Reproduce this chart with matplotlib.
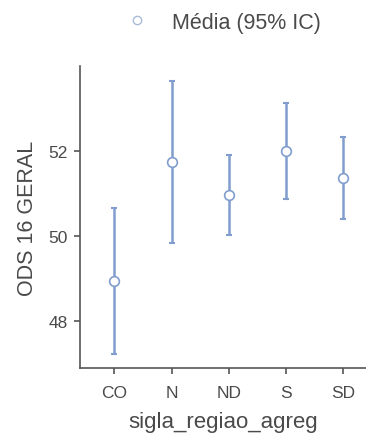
import numpy as np
import matplotlib
matplotlib.use("Agg")
import matplotlib.pyplot as plt
from matplotlib.lines import Line2D

plt.rcParams['font.family'] = ['Liberation Sans', 'DejaVu Sans']

regions = ["CO", "N", "ND", "S", "SD"]
means = [48.94, 51.74, 50.97, 52.00, 51.37]
lower = [47.22, 49.83, 50.02, 50.87, 50.41]
upper = [50.65, 53.64, 51.90, 53.14, 52.34]

line_col = "#809dce"
text_col = "#4a4a4a"

fig = plt.figure(figsize=(3.66, 4.35), dpi=100)
ax = fig.add_axes([80 / 366, 1 - 369 / 435, 286 / 366, 302 / 435])

x = np.arange(len(regions))
m = np.array(means)
err = [m - np.array(lower), np.array(upper) - m]
ax.errorbar(x, m, yerr=err, fmt="none", ecolor=line_col, elinewidth=1.8,
            capsize=2.5, capthick=1.5)
ax.plot(x, m, "o", ms=7, mfc="white", mec=line_col, mew=1.2, zorder=3)

ax.set_xlim(-0.6, 4.4)
ax.set_ylim(46.9, 54.0)
ax.set_xticks(x)
ax.set_xticklabels(regions)
ax.set_yticks([48, 50, 52])

for s in ["top", "right"]:
    ax.spines[s].set_visible(False)
for s in ["left", "bottom"]:
    ax.spines[s].set_color("#555555")
    ax.spines[s].set_linewidth(1.2)
ax.tick_params(colors="#555555", labelcolor=text_col, labelsize=12.5,
               length=4, width=1.2)
ax.tick_params(axis="x", pad=8)
ax.tick_params(axis="y", pad=5)

ax.set_xlabel("sigla_regiao_agreg", fontsize=16, color=text_col, labelpad=8)
ax.set_ylabel("ODS 16 GERAL", fontsize=15.5, color=text_col, labelpad=7)

handle = Line2D([], [], marker="o", ls="none", ms=6, mfc="white",
                mec="#aabbd8", mew=1.0)
fig.legend([handle], ["Média (95% IC)"], loc="center",
           bbox_to_anchor=(218 / 366, 1 - 23 / 435), frameon=False,
           fontsize=15.5, labelcolor=text_col, handletextpad=0.6)

fig.savefig("out.png", dpi=100)
